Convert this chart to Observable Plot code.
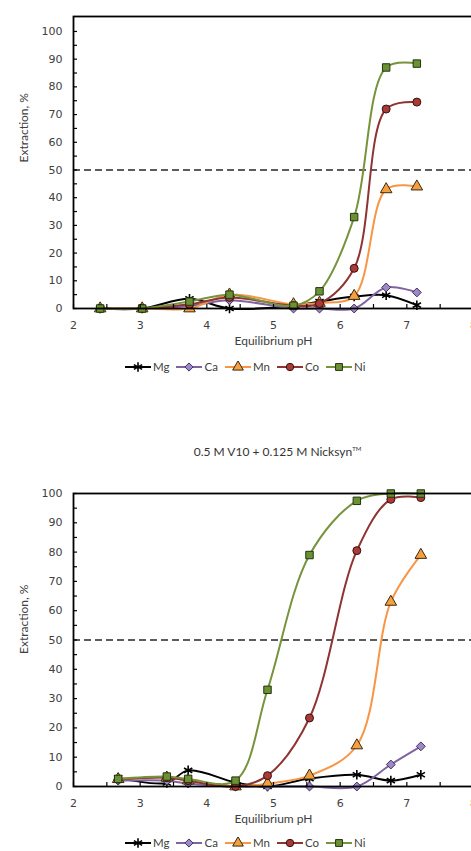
<!DOCTYPE html>
<html>
<head>
<meta charset="utf-8">
<script src="https://cdn.jsdelivr.net/npm/d3@7"></script>
<script src="https://cdn.jsdelivr.net/npm/@observablehq/plot@0.6"></script>
<style>
  html, body { margin: 0; padding: 0; background: white; overflow: hidden; }
  #root { position: relative; width: 471px; height: 851px; overflow: hidden; font-family: Lato, "Open Sans", sans-serif; color: #404040; }
  #root svg.plot, #root figure svg { max-width: none !important; }
  .blk { position: absolute; left: 0; }
  .legend { display: flex; align-items: center; font-size: 11.5px; color: #404040; }
  .legend .item { display: flex; align-items: center; margin-right: 6px; }
  .legend .item span { margin-left: 1px; }
  .title { font-size: 12px; text-align: center; width: 471px; color: #333; }
  .title sup { font-size: 6px; }
</style>
</head>
<body>
<div id="root"></div>
<script>
// ---------- data ----------
const metals = ["Mg", "Ca", "Mn", "Co", "Ni"];

// Top chart
const pHTop = [2.4, 3.03, 3.74, 4.34, 5.3, 5.69, 6.21, 6.69, 7.15];
const mgTop = [0, 0, 3.5, 0, 1, 2.5, 4.3, 4.8, 1.2];
const caTop = [0, 0, 1, 3, 0, 0, 0, 7.6, 5.8];
const mnTop = [0, 0, 0, 5, 1.5, 2, 4.5, 43, 44];
const coTop = [0, 0, 1.5, 4, 1, 1.8, 14.5, 72, 74.5];
const niTop = [0, 0, 2.5, 5, 1, 6.2, 33, 87, 88.4];

// Bottom chart: 0.5 M V10 + 0.125 M Nicksyn
const pHBot = [2.67, 3.4, 3.72, 4.43, 4.91, 5.54, 6.25, 6.76, 7.21];
const mgBot = [3, 1.2, 5.5, 1.4, 0, 2.7, 4, 2, 4];
const caBot = [2, 2, 1, 0, 0, 0, 0, 7.5, 13.7];
const mnBot = [2.5, 3, 2, 0, 1, 3.7, 14, 63, 79];
const coBot = [2.5, 3, 2, 0, 3.7, 23.4, 80.5, 98, 98.6];
const niBot = [2.6, 3.4, 2.6, 2, 33, 79, 97.5, 100, 100];

const xMajor = [2, 3, 4, 5, 6, 7, 8];
const xMinor = [2, 2.5, 3, 3.5, 4, 4.5, 5, 5.5, 6, 6.5, 7, 7.5, 8];
const yMajor = [0, 10, 20, 30, 40, 50, 60, 70, 80, 90, 100];
const yMinor = [0, 5, 10, 15, 20, 25, 30, 35, 40, 45, 50, 55, 60, 65, 70, 75, 80, 85, 90, 95, 100];
const threshold = [50];

const xLabel = "Equilibrium pH";
const yLabel = "Extraction, %";
const bottomTitle = "0.5 M V10 + 0.125 M Nicksyn";

// ---------- styles ----------
const style = {
  Mg: {line: "#000000", fill: "none", stroke: "#000000", symbol: "asterisk", r: 4.5, sw: 1.6},
  Ca: {line: "#8064a2", fill: "#9d89c6", stroke: "#3f3060", symbol: "diamond2", r: 4, sw: 1},
  Mn: {line: "#f79646", fill: "#f5a040", stroke: "#3a2a10", symbol: "triangle", r: 4.3, sw: 1},
  Co: {line: "#8e3433", fill: "#a93a36", stroke: "#3a1010", symbol: "circle", r: 4, sw: 1},
  Ni: {line: "#77933c", fill: "#6a9234", stroke: "#25330f", symbol: "square", r: 4.2, sw: 1}
};

function rowsFor(pH, vals) {
  return pH.map((p, i) => ({pH: p, v: vals[i]}));
}

function makeChart({pH, series, yMax, height, marginTop, marginBottom, yLabelDy}) {
  const W = 480, mL = 73, mR = 7;
  const plotH = height - marginTop - marginBottom;
  const plotW = W - mL - mR;
  const marks = [
    Plot.ruleY(threshold, {y: d => d, stroke: "#5c5c5c", strokeWidth: 2, strokeDasharray: "7,4"}),
  ];
  metals.forEach((m, k) => {
    const s = style[m];
    const data = rowsFor(pH, series[k]);
    marks.push(Plot.line(data, {x: "pH", y: "v", stroke: s.line, strokeWidth: 2, curve: "catmull-rom"}));
    marks.push(Plot.dot(data, {x: "pH", y: "v", symbol: () => s.symbol, r: s.r, fill: s.fill, stroke: s.stroke, strokeWidth: s.sw}));
  });
  marks.push(
    Plot.tickX(xMinor, {x: d => d, insetTop: plotH - 4, stroke: "#000", strokeWidth: 1.2}),
    Plot.tickY(yMinor, {y: d => d, insetRight: plotW - 4, stroke: "#000", strokeWidth: 1.2}),
    Plot.frame({stroke: "#000", strokeWidth: 1.8}),
    Plot.axisX({ticks: xMajor, tickSize: 0, tickPadding: 13, label: null, fontSize: 11, fontFamily: "DejaVu Sans", fill: "#404040", tickFormat: d => String(d)}),
    Plot.axisY({ticks: yMajor, tickSize: 0, tickPadding: 11, label: null, fontSize: 11, fontFamily: "DejaVu Sans", fill: "#404040", tickFormat: d => String(d)}),
    Plot.text([xLabel], {frameAnchor: "bottom", dy: 36, text: d => d, fontSize: 12, fontFamily: "Lato", fill: "#404040"}),
    Plot.text([yLabel], {frameAnchor: "left", dx: -49, dy: yLabelDy, rotate: -90, text: d => d, fontSize: 12, fontFamily: "Lato", fill: "#404040"})
  );
  return Plot.plot({
    width: W, height, marginLeft: mL, marginRight: mR, marginTop, marginBottom,
    style: {maxWidth: "none", background: "white", overflow: "visible"},
    x: {domain: [2, 8]},
    y: {domain: [0, yMax]},
    marks
  });
}

function makeLegend() {
  const div = document.createElement("div");
  div.className = "legend";
  metals.forEach(m => {
    const s = style[m];
    const it = document.createElement("div");
    it.className = "item";
    const svg = d3.create("svg").attr("width", 28).attr("height", 12);
    svg.append("line").attr("x1", 1).attr("x2", 27).attr("y1", 6).attr("y2", 6).attr("stroke", s.line).attr("stroke-width", 2);
    const symMap = {asterisk: d3.symbolAsterisk, diamond2: d3.symbolDiamond2, triangle: d3.symbolTriangle, circle: d3.symbolCircle, square: d3.symbolSquare};
    svg.append("path").attr("transform", "translate(14,6)")
      .attr("d", d3.symbol(symMap[s.symbol], Math.PI * s.r * s.r * (s.symbol === "asterisk" ? 1 : 0.85))())
      .attr("fill", s.fill).attr("stroke", s.stroke).attr("stroke-width", s.sw);
    it.appendChild(svg.node());
    const t = document.createElement("span");
    t.textContent = m;
    it.appendChild(t);
    div.appendChild(it);
  });
  return div;
}

const root = document.getElementById("root");

// top chart
const top1 = makeChart({
  pH: pHTop, series: [mgTop, caTop, mnTop, coTop, niTop],
  yMax: 105.4, height: 355, marginTop: 16, marginBottom: 47, yLabelDy: 0
});
const w1 = document.createElement("div"); w1.className = "blk"; w1.style.top = "0px";
w1.appendChild(top1); root.appendChild(w1);

const lg1 = makeLegend(); lg1.classList.add("blk"); lg1.style.top = "360px"; lg1.style.left = "124px";
root.appendChild(lg1);

const title = document.createElement("div");
title.className = "title blk"; title.style.top = "444px"; title.style.left = "42px";
title.innerHTML = bottomTitle + "<sup>TM</sup>";
root.appendChild(title);

// bottom chart
const bot = makeChart({
  pH: pHBot, series: [mgBot, caBot, mnBot, coBot, niBot],
  yMax: 100, height: 340, marginTop: 2, marginBottom: 45, yLabelDy: 14
});
const w2 = document.createElement("div"); w2.className = "blk"; w2.style.top = "491px";
w2.appendChild(bot); root.appendChild(w2);

const lg2 = makeLegend(); lg2.classList.add("blk"); lg2.style.top = "836px"; lg2.style.left = "124px";
root.appendChild(lg2);
</script>
</body>
</html>
